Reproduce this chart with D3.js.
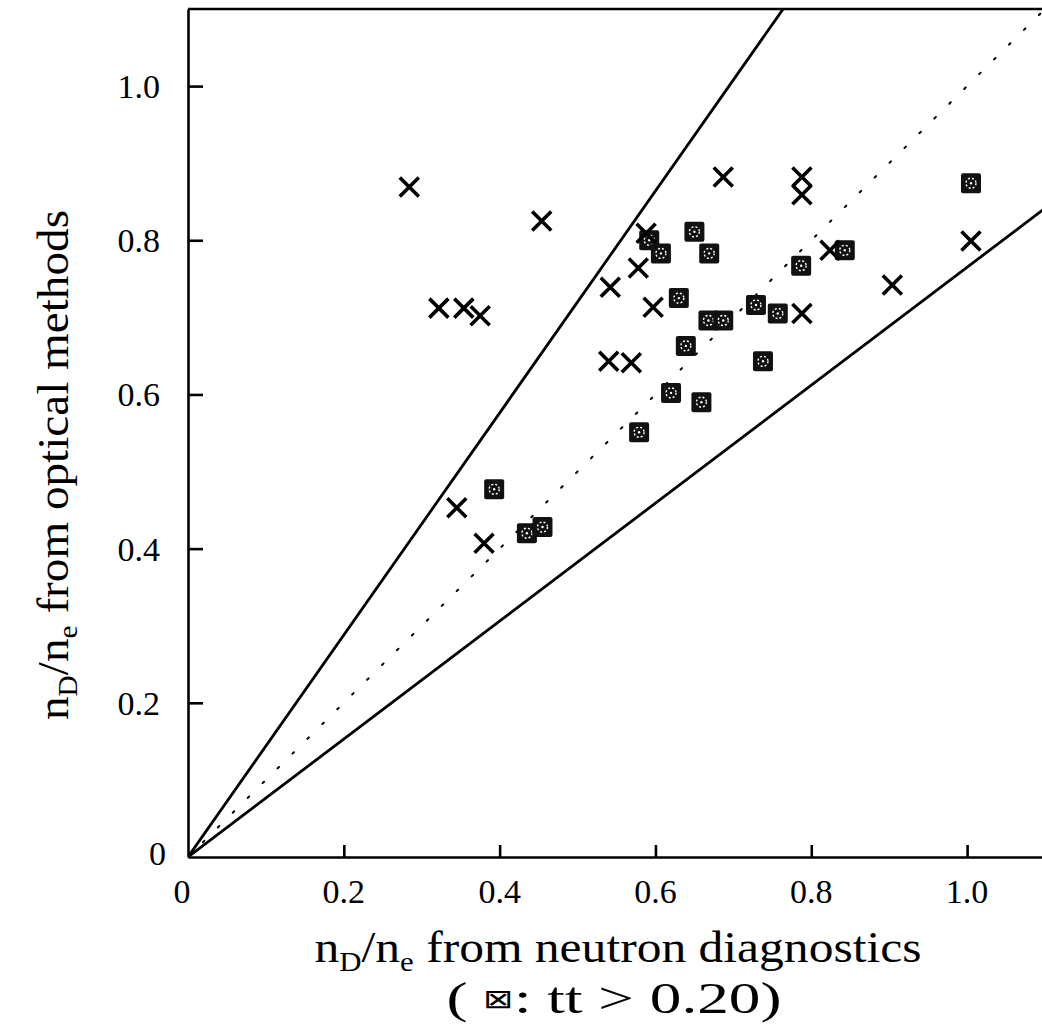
<!DOCTYPE html>
<html lang="en">
  <head>
    <meta charset="UTF-8" />
    <title>nD/ne optical vs neutron</title>
    <script src="https://d3js.org/d3.v7.min.js"></script>
    <style>
      body {
        margin: 0;
        background: #fff;
      }
      svg text {
        font-family: "Liberation Serif", "Times New Roman", serif;
        fill: #000;
      }
      .tick-label {
        font-size: 34px;
      }
      .axis-title {
        font-size: 45px;
      }
    </style>
  </head>
  <body>
    <svg id="chart" width="1042" height="1035"></svg>
    <script>
      // ticks on both axes
      let tickValues = [0.2, 0.4, 0.6, 0.8, 1.0];
      let tickLabels = ["0.2", "0.4", "0.6", "0.8", "1.0"];

      // plain discharges (x marks): neutron ratio, optical ratio
      let crossX = [0.284, 0.454, 0.322, 0.354, 0.375, 0.687, 0.788, 0.788, 0.588, 0.578,
                    0.542, 0.597, 0.824, 0.788, 0.540, 0.569, 1.005, 0.904, 0.345, 0.380];
      let crossY = [0.869, 0.825, 0.712, 0.712, 0.702, 0.882, 0.882, 0.859, 0.809, 0.764,
                    0.739, 0.713, 0.787, 0.705, 0.643, 0.641, 0.799, 0.742, 0.453, 0.407];

      // tt > 0.20 (boxed marks)
      let boxX = [0.592, 0.607, 0.650, 0.669, 0.630, 0.668, 0.687, 0.787, 0.843, 0.729,
                  0.757, 0.639, 0.738, 0.620, 0.659, 0.579, 1.005, 0.393, 0.435, 0.455];
      let boxY = [0.800, 0.783, 0.811, 0.783, 0.725, 0.696, 0.696, 0.767, 0.787, 0.716,
                  0.705, 0.663, 0.643, 0.602, 0.590, 0.551, 0.874, 0.477, 0.420, 0.428];

      // reference lines through the origin: slope and style
      let guideSlopes = [1.44, 0.765, 1.0];
      let guideDashed = [false, false, true];

      let svg = d3.select("#chart");
      let x = d3.scaleLinear().domain([0, 1.1]).range([188, 1045]);
      let y = d3.scaleLinear().domain([0, 1.1]).range([857, 9]);

      let plot = svg.append("g");
      plot.append("clipPath").attr("id", "clip")
        .append("rect")
        .attr("x", x(0)).attr("y", y(1.1))
        .attr("width", x(1.1) - x(0)).attr("height", y(0) - y(1.1));

      // guide lines
      let lineG = plot.append("g").attr("clip-path", "url(#clip)");
      guideSlopes.forEach(function (s, i) {
        lineG.append("line")
          .attr("x1", x(0)).attr("y1", y(0))
          .attr("x2", x(1.2)).attr("y2", y(1.2 * s))
          .attr("stroke", "#000")
          .attr("stroke-width", guideDashed[i] ? 2 : 2.8)
          .attr("stroke-dasharray", guideDashed[i] ? "2,19" : null)
          .attr("stroke-linecap", "round");
      });

      // axes
      let xAxis = d3.axisBottom(x).tickValues(tickValues).tickSizeInner(-12).tickSizeOuter(0).tickFormat("");
      let yAxis = d3.axisLeft(y).tickValues(tickValues).tickSizeInner(-15).tickSizeOuter(0).tickFormat("");
      let gx = plot.append("g").attr("transform", `translate(0,${y(0)})`).call(xAxis);
      let gy = plot.append("g").attr("transform", `translate(${x(0)},0)`).call(yAxis);
      [gx, gy].forEach(function (g) {
        g.selectAll("path, line").attr("stroke", "#000").attr("stroke-width", 2.6);
      });
      // top frame
      plot.append("line")
        .attr("x1", x(0)).attr("x2", x(1.1))
        .attr("y1", y(1.1)).attr("y2", y(1.1))
        .attr("stroke", "#000").attr("stroke-width", 2.6);

      // tick labels
      svg.selectAll(".xl").data(tickValues).enter().append("text")
        .attr("class", "tick-label")
        .attr("x", d => x(d)).attr("y", 903)
        .attr("text-anchor", "middle")
        .text((d, i) => tickLabels[i]);
      svg.append("text").attr("class", "tick-label")
        .attr("x", x(0) - 6).attr("y", 903).attr("text-anchor", "middle").text("0");
      svg.selectAll(".yl").data(tickValues).enter().append("text")
        .attr("class", "tick-label")
        .attr("x", 160).attr("y", d => y(d) + 12)
        .attr("text-anchor", "end")
        .text((d, i) => tickLabels[i]);
      svg.append("text").attr("class", "tick-label")
        .attr("x", 166).attr("y", y(0) + 8).attr("text-anchor", "end").text("0");

      // boxed markers
      let boxes = plot.append("g").selectAll("g").data(boxX).enter().append("g")
        .attr("transform", (d, i) => `translate(${x(d)},${y(boxY[i])})`);
      boxes.append("rect")
        .attr("x", -10).attr("y", -10).attr("width", 20).attr("height", 20)
        .attr("rx", 2).attr("fill", "#111");
      boxes.append("circle").attr("r", 5)
        .attr("fill", "none").attr("stroke", "#fff").attr("stroke-width", 1.4)
        .attr("stroke-dasharray", "2,2");
      boxes.append("circle").attr("r", 1.2).attr("fill", "#fff");

      // cross markers
      plot.append("g").selectAll("path").data(crossX).enter().append("path")
        .attr("d", (d, i) => {
          let cx = x(d), cy = y(crossY[i]), r = 9.5;
          return `M${cx - r},${cy - r}L${cx + r},${cy + r}M${cx - r},${cy + r}L${cx + r},${cy - r}`;
        })
        .attr("stroke", "#000").attr("stroke-width", 3.6).attr("fill", "none");

      // x axis title
      let xt = svg.append("text").attr("class", "axis-title")
        .attr("x", 618).attr("y", 962).attr("text-anchor", "middle")
        .attr("textLength", 607).attr("lengthAdjust", "spacingAndGlyphs");
      xt.append("tspan").text("n");
      xt.append("tspan").attr("font-size", 28).attr("dy", 9).text("D");
      xt.append("tspan").attr("dy", -9).text("/n");
      xt.append("tspan").attr("font-size", 28).attr("dy", 9).text("e");
      xt.append("tspan").attr("dy", -9).text(" from neutron diagnostics");

      let xt2 = svg.append("text").attr("class", "axis-title")
        .attr("x", 614).attr("y", 1013).attr("text-anchor", "middle")
        .attr("font-size", 48)
        .attr("textLength", 335).attr("lengthAdjust", "spacingAndGlyphs");
      xt2.append("tspan").text("( ");
      xt2.append("tspan").attr("font-family", "DejaVu Sans").attr("font-size", 26).attr("dy", -5).text("\u22A0");
      xt2.append("tspan").attr("dy", 5).text(": tt > 0.20)");

      // y axis title
      let yt = svg.append("text").attr("class", "axis-title")
        .attr("transform", "translate(68,465) rotate(-90)")
        .attr("text-anchor", "middle")
        .attr("textLength", 510).attr("lengthAdjust", "spacingAndGlyphs");
      yt.append("tspan").text("n");
      yt.append("tspan").attr("font-size", 28).attr("dy", 9).text("D");
      yt.append("tspan").attr("dy", -9).text("/n");
      yt.append("tspan").attr("font-size", 28).attr("dy", 9).text("e");
      yt.append("tspan").attr("dy", -9).text(" from optical methods");
    </script>
  </body>
</html>
